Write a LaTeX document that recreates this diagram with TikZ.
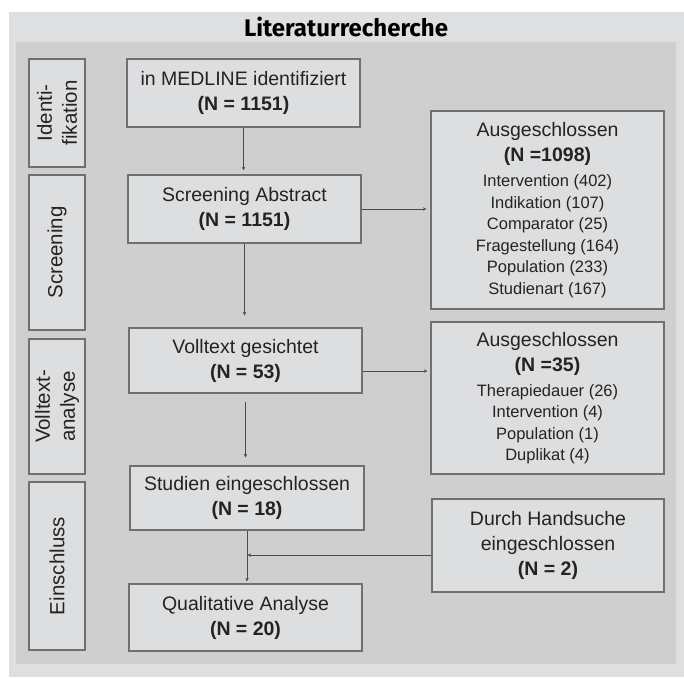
\documentclass[tikz,border=0pt]{standalone}
\usepackage{fontspec}
\setmainfont{Liberation Sans}
\newfontfamily\titlefont{Fira Sans}
\usetikzlibrary{arrows.meta,calc}
\definecolor{outerbg}{RGB}{222,223,224}
\definecolor{innerbg}{RGB}{207,207,208}
\definecolor{boxfill}{RGB}{221,222,224}
\definecolor{boxline}{RGB}{112,112,112}
\definecolor{txt}{RGB}{35,35,35}
\definecolor{arrcol}{RGB}{75,75,75}
\tikzset{
  box/.style={draw=boxline, fill=boxfill, line width=1.2pt, inner sep=0pt, align=center,
    text=txt, font=\fontsize{19.5}{25}\selectfont},
  listbox/.style={box, font=\fontsize{16.5}{21.5}\selectfont},
  sidebox/.style={box, rotate=90, font=\fontsize{20.5}{25}\selectfont},
  arr/.style={draw=arrcol, line width=0.8pt, -{Stealth[length=3.5pt,width=3.5pt]}}
}
\begin{document}
\begin{tikzpicture}[x=1pt,y=-1pt]
\useasboundingbox (0,0) rectangle (684,677);
\fill[white] (0,0) rectangle (684,677);
\fill[outerbg] (9,12) rectangle (684,677);
\fill[innerbg] (16,42) rectangle (676,664);
\node[font=\titlefont\bfseries\fontsize{24}{28}\selectfont, text=black] (title) at (346,27) {Literaturrecherche};

% side labels
\node[sidebox, minimum width=108pt, minimum height=56pt] (ident) at (57,113) {Identi-\\fikation};
\node[sidebox, minimum width=155pt, minimum height=56pt] (screen) at (57,252.5) {Screening};
\node[sidebox, minimum width=135pt, minimum height=56pt] (voll) at (57,406.5) {Volltext-\\analyse};
\node[sidebox, minimum width=168pt, minimum height=56pt] (einsch) at (57,566) {Einschluss};

% main boxes
\node[box, minimum width=233pt, minimum height=68pt] (medline) at (243.5,93) {in MEDLINE identifiziert\\\textbf{(N = 1151)}};
\node[box, minimum width=233pt, minimum height=68pt] (screening) at (244.5,209) {Screening Abstract\\\textbf{(N = 1151)}};
\node[box, minimum width=233pt, minimum height=65pt] (volltext) at (245.5,360.5) {Volltext gesichtet\\\textbf{(N = 53)}};
\node[box, minimum width=234pt, minimum height=64pt] (studien) at (247,498) {Studien eingeschlossen\\\textbf{(N = 18)}};
\node[box, minimum width=233pt, minimum height=67pt] (quali) at (245.5,617.5) {Qualitative Analyse\\\textbf{(N = 20)}};

% right boxes
\node[listbox, minimum width=233pt, minimum height=198pt] (aus1) at (547.5,210)
  {{\fontsize{19.5}{25}\selectfont Ausgeschlossen}\\[3.5pt]
   {\fontsize{19.5}{25}\selectfont\bfseries (N =1098)}\\[3.5pt]
   Intervention (402)\\Indikation (107)\\Comparator (25)\\Fragestellung (164)\\Population (233)\\Studienart (167)};
\node[listbox, minimum width=233pt, minimum height=152pt] (aus2) at (547.5,398)
  {{\fontsize{19.5}{25}\selectfont Ausgeschlossen}\\[3.5pt]
   {\fontsize{19.5}{25}\selectfont\bfseries (N =35)}\\[3.5pt]
   Therapiedauer (26)\\Intervention (4)\\Population (1)\\Duplikat (4)};
\node[box, minimum width=232pt, minimum height=93pt] (durch) at (548,545.5) {Durch Handsuche\\eingeschlossen\\\textbf{(N = 2)}};

% connectors
\draw[arr, shorten >=4pt] (medline.south) -- (medline.south |- screening.north);
\draw[arr, shorten >=4pt] (screening.east) -- (screening.east -| aus1.west);
\draw[arr, shorten >=12pt] (screening.south) -- (screening.south |- volltext.north);
\coordinate (v4) at ([yshift=-10.5pt]volltext.east);
\draw[arr, shorten >=3pt] (v4) -- (v4 -| aus2.west);
\draw[arr, shorten <=8pt, shorten >=8pt] (volltext.south) -- (volltext.south |- studien.north);
\draw[arr, shorten >=2pt] (studien.south) -- (studien.south |- quali.north);
\coordinate (d7) at ([yshift=-9.5pt]durch.west);
\coordinate (j) at (d7 -| studien.south);
\draw[arr, shorten >=0.5pt] (d7) -- (j);
\end{tikzpicture}
\end{document}
